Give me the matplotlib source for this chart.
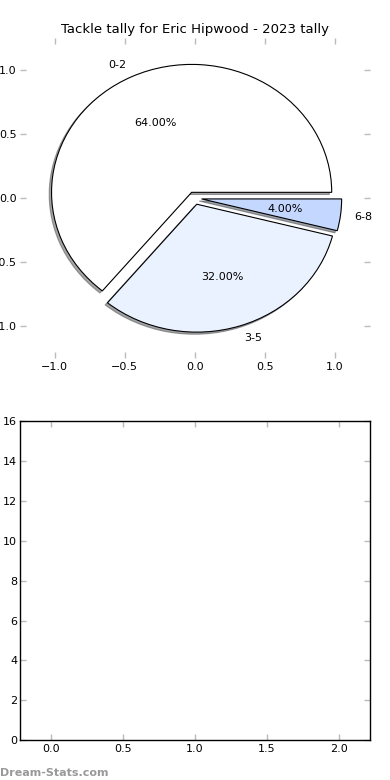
import matplotlib
matplotlib.use("Agg")
import matplotlib.pyplot as plt

labels = ["0-2", "3-5", "6-8"]
values = [16, 8, 1]
colors = ["#FFFFFF", "#EBF2FF", "#C4D8FF"]
explode = [0.05, 0.05, 0.05]
title = "Tackle tally for Eric Hipwood - 2023 tally"

plt.rcParams["font.family"] = ["DejaVu Sans"]
fig = plt.figure(figsize=(3.9, 7.8), dpi=100)
ax1 = fig.add_axes([0.05, 0.541, 0.898, 0.410])
ax2 = fig.add_axes([0.051, 0.051, 0.898, 0.409])

wedges, texts, autotexts = ax1.pie(values, labels=labels, colors=colors, explode=explode,
                                   autopct="%1.2f%%", shadow={"ox": -0.012, "oy": -0.012},
                                   startangle=0,
                                   wedgeprops=dict(edgecolor="black", linewidth=0.8),
                                   textprops=dict(fontsize=8))
ax1.set_aspect("auto")
ax1.set_xlim(-1.25, 1.25)
ax1.set_ylim(-1.25, 1.25)
ax1.set_xticks([-1.0, -0.5, 0.0, 0.5, 1.0])
ax1.set_yticks([-1.0, -0.5, 0.0, 0.5, 1.0])
ax1.set_xticklabels(["\u22121.0", "\u22120.5", "0.0", "0.5", "1.0"])
ax1.set_yticklabels(["\u22121.0", "\u22120.5", "0.0", "0.5", "1.0"])
ax1.set_frame_on(False)
ax1.set_title(title, fontsize=9.5, pad=4)

for ax in (ax1, ax2):
    ax.tick_params(direction="in", length=4, width=1, color="#bbbbbb",
                   top=True, right=True, labelsize=8, pad=3)
ax1.tick_params(axis="y", pad=2)

ax2.set_xlim(-0.22, 2.22)
ax2.set_ylim(0, 16)
ax2.set_xticks([0.0, 0.5, 1.0, 1.5, 2.0])
ax2.set_yticks([0, 2, 4, 6, 8, 10, 12, 14, 16])
ax2.tick_params(axis="y", pad=2)
for s in ax2.spines.values():
    s.set_linewidth(1.0)

fig.text(0.0, 0.005, "Dream-Stats.com", fontsize=8, color="#999999", fontweight="bold")

fig.savefig("out.png", dpi=100)
